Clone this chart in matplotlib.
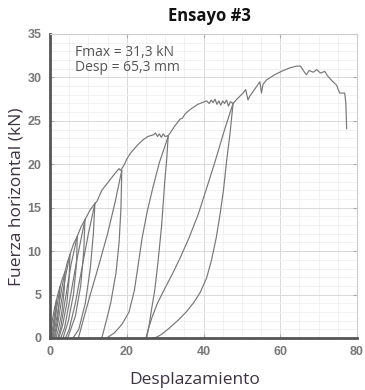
import numpy as np
from matplotlib import pyplot as plt
from matplotlib.ticker import MultipleLocator

# envelope (loading path, plateaus and final branch), mm / kN
env_x = [0, 0.6, 1.2, 1.7, 2.2, 2.6, 3.2, 3.9, 4.5, 5.2, 6.1, 7.1, 8.1, 9.1, 10.4, 11.7,
         12.2, 13.5, 15.6, 17.4, 18.0, 18.3, 18.7, 19.3, 20.0, 21.0, 22.0, 23.0, 24.2,
         25.5, 27.0, 27.5, 28.0, 28.5, 29.0, 29.5, 30.0, 30.8, 31.3, 32.5, 33.9, 34.5,
         35.2, 36.5, 38.5, 40.8, 41.5, 42.0, 42.5, 43.0, 43.5, 44.0, 44.5, 45.0, 45.5,
         46.0, 46.5, 47.0, 47.7, 48.5, 50.3, 51.0, 51.6, 52.0, 54.7, 55.1, 55.5, 56.4,
         58.5, 60.8, 62.5, 64.2, 65.3, 66.0, 66.8, 67.5, 68.6, 69.5, 70.5, 71.6, 72.3,
         72.9, 73.5, 74.7, 75.2, 75.5, 76.8, 77.1, 77.3]
env_y = [0, 2.0, 3.5, 4.4, 5.3, 5.9, 6.8, 7.6, 8.7, 9.6, 10.8, 11.7, 12.8, 13.6, 14.7, 15.5,
         15.7, 17.0, 18.2, 19.2, 19.5, 19.3, 19.5, 19.9, 20.6, 21.3, 21.8, 22.3, 22.8,
         23.2, 23.4, 23.6, 23.2, 23.5, 23.1, 23.5, 23.2, 23.3, 23.6, 24.4, 25.2, 25.3,
         25.8, 26.3, 26.9, 27.3, 27.0, 27.4, 27.1, 27.5, 26.9, 27.3, 26.8, 27.3, 27.0,
         27.4, 26.7, 27.2, 27.0, 27.4, 28.2, 28.6, 27.4, 27.8, 29.5, 28.2, 29.2, 29.7,
         30.3, 30.8, 31.1, 31.3, 31.3, 30.8, 30.3, 30.8, 30.6, 30.9, 30.5, 30.7, 30.2,
         29.9, 29.6, 29.1, 28.5, 28.2, 28.2, 27.0, 24.1]

# unloading branches (peak -> residual)
unload = [
    ([1.7, 1.5, 1.1, 0.6], [4.4, 3.0, 1.4, 0]),
    ([2.6, 2.4, 1.9, 1.1], [5.9, 4.0, 2.0, 0]),
    ([3.9, 3.7, 3.1, 2.2, 1.5], [7.6, 5.5, 3.0, 1.0, 0]),
    ([5.2, 5.0, 4.4, 3.3, 2.3], [9.6, 7.0, 4.0, 1.5, 0]),
    ([7.1, 6.9, 6.1, 4.8, 3.4], [11.7, 8.5, 5.0, 2.0, 0]),
    ([9.1, 8.8, 8.0, 6.6, 4.6], [13.6, 10.0, 6.0, 2.5, 0]),
    ([11.7, 11.3, 10.5, 9.2, 7.5, 6.0], [15.5, 12.0, 8.0, 4.0, 1.0, 0]),
    ([18.7, 18.5, 18.0, 17.2, 15.8, 14.8, 13.5], [19.3, 15.0, 11.0, 7.5, 4.0, 2.2, 0]),
    ([30.8, 30.4, 29.9, 29.1, 28.2, 27.3, 26.5, 25.8, 25.2],
     [23.2, 20.5, 18.0, 13.0, 9.0, 5.5, 3.4, 1.4, 0]),
    ([47.7, 46.9, 46.0, 45.2, 44.3, 43.3, 42.1, 40.8, 39.2, 37.5, 35.5, 33.5, 31.0,
      29.0, 27.8, 26.8],
     [27.0, 23.5, 20.3, 17.0, 14.2, 11.5, 9.0, 6.9, 5.3, 4.1, 3.0, 2.1, 1.1,
      0.4, 0.1, 0]),
]

# reloading branches (residual -> peak)
reload = [
    ([0.3, 0.7, 1.2, 1.7], [0, 1.2, 2.8, 4.4]),
    ([0.5, 1.0, 1.7, 2.6], [0, 1.3, 3.3, 5.9]),
    ([0.8, 1.3, 2.2, 3.1, 3.9], [0, 1.2, 3.5, 5.8, 7.6]),
    ([1.2, 1.9, 2.9, 4.0, 5.2], [0, 1.3, 4.0, 7.0, 9.6]),
    ([2.0, 2.8, 4.0, 5.5, 7.1], [0, 1.2, 4.5, 8.5, 11.7]),
    ([2.8, 3.8, 5.2, 7.0, 9.1], [0, 1.2, 4.5, 9.0, 13.6]),
    ([4.0, 5.0, 6.6, 8.3, 10.0, 11.7], [0, 1.0, 4.0, 8.0, 12.0, 15.5]),
    ([7.4, 8.5, 10.5, 12.8, 15.0, 17.0, 18.7], [0, 1.8, 5.0, 8.5, 12.0, 15.7, 19.3]),
    ([14.8, 16.8, 18.8, 20.6, 22.0, 23.0, 24.0, 25.3, 26.8, 28.5, 30.8],
     [0, 0.6, 1.6, 3.0, 5.5, 8.5, 11.5, 14.5, 17.3, 20.2, 23.2]),
    ([25.0, 25.6, 26.6, 28.0, 29.8, 31.8, 33.9, 36.2, 38.6, 41.0, 43.0, 45.5, 47.7],
     [0, 1.0, 2.4, 4.0, 5.6, 7.3, 9.2, 11.5, 14.2, 17.5, 20.3, 24.0, 27.0]),
]

line_col = '#777777'
label_font = ['Open Sans', 'DejaVu Sans']

fig = plt.figure(figsize=(3.65, 3.90), dpi=100)
ax = fig.add_axes([50 / 365, 52 / 390, 307 / 365, 304 / 390])

ax.plot(env_x, env_y, color=line_col, lw=0.85)
for xs, ys in unload + reload:
    ax.plot(xs, ys, color=line_col, lw=0.85)

ax.set_xlim(0, 80)
ax.set_ylim(0, 35)
ax.xaxis.set_major_locator(MultipleLocator(20))
ax.xaxis.set_minor_locator(MultipleLocator(5))
ax.yaxis.set_major_locator(MultipleLocator(5))
ax.yaxis.set_minor_locator(MultipleLocator(1))
ax.grid(which='major', color='#d9d9d9', lw=0.7)
ax.grid(which='minor', color='#f0f0f0', lw=0.6)
ax.set_axisbelow(True)

ax.tick_params(which='both', direction='in', top=True, right=True,
               colors='#aaaaaa', labelcolor='#777777', labelsize=9,
               length=3, pad=6)
ax.tick_params(which='minor', length=0)
for lab in ax.get_xticklabels() + ax.get_yticklabels():
    lab.set_family(['Liberation Sans', 'DejaVu Sans'])
    lab.set_fontweight('bold')

for side in ['left', 'bottom']:
    ax.spines[side].set_color('#555555')
    ax.spines[side].set_linewidth(2)
for side in ['top', 'right']:
    ax.spines[side].set_color('#cccccc')
    ax.spines[side].set_linewidth(0.8)

ax.text(6.5, 32.0, 'Fmax = 31,3 kN\nDesp = 65,3 mm', fontsize=10, color='#555555',
        family=label_font, va='center', linespacing=1.0)

fig.text(209 / 365, 1 - 16 / 390, 'Ensayo #3', ha='center', va='center',
         fontsize=12, fontweight='bold', family=label_font, color='#111111')
fig.text(195 / 365, 1 - 380 / 390, 'Desplazamiento', ha='center', va='center',
         fontsize=12.5, family=label_font, color='#3b3340')
fig.text(17 / 365, 1 - 197 / 390, 'Fuerza horizontal (kN)', ha='center', va='center',
         rotation=90, fontsize=12.5, family=label_font, color='#3b3340')

fig.savefig('out.png', dpi=100)
